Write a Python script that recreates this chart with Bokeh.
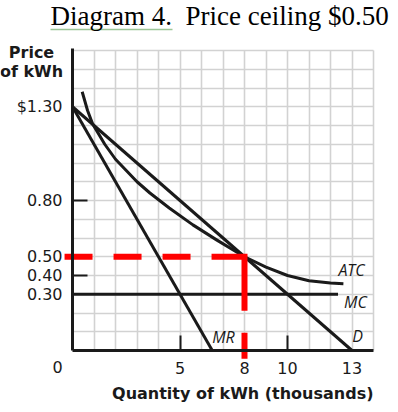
from bokeh.plotting import figure
from bokeh.models import FixedTicker, Label, NumeralTickFormatter
from bokeh.core.properties import value
from bokeh.embed import file_html
from bokeh.resources import INLINE

# ---------------- data ----------------
title_text = "Diagram 4.\u00a0 Price ceiling $0.50"
x_axis_title = "Quantity of kWh (thousands)"
y_axis_title = ["Price", "of kWh"]
origin_label = "0"

demand_q = [0, 13]
demand_p = [1.30, 0.0]
mr_q = [0, 6.5]
mr_p = [1.30, 0.0]
mc_q = [0, 12.35]
mc_p = [0.30, 0.30]
atc_q = [0.45, 0.7, 0.93, 1.5, 2, 2.5, 3, 3.6, 4.5, 5.6, 6.7, 8, 9, 10, 11, 12, 12.6]
atc_p = [1.38, 1.28, 1.21, 1.10, 1.02, 0.96, 0.90, 0.84, 0.76, 0.67, 0.59, 0.50,
         0.445, 0.40, 0.372, 0.36, 0.356]
ceiling_price = 0.50
ceiling_qty = 8
ceiling_line_q = [-0.37, ceiling_qty, ceiling_qty]
ceiling_line_p = [ceiling_price, ceiling_price, -0.05]

x_ticks = [5, 8, 10, 13]
x_tick_marks = [5, 10]
y_ticks = [0.30, 0.40, 0.50, 0.80, 1.30]
y_tick_marks = [0.40, 0.80]
grid_x = [1, 2, 3, 4, 5, 6, 7, 8, 9, 10, 11, 12, 13, 14]
grid_y = [0.1, 0.2, 0.3, 0.4, 0.5, 0.6, 0.7, 0.8, 0.9, 1.0, 1.1, 1.2, 1.3, 1.4, 1.5, 1.6]
q_max = 14
p_max = 1.6

curve_labels = ["ATC", "MC", "D", "MR"]
label_q = [12.98, 13.16, 13.26, 7.02]
label_p = [0.43, 0.26, 0.078, 0.073]

INK = "#1a1a1a"

# ---------------- layout (pixels) ----------------
W, H = 398, 412
X0_PX, Y0_PX = 72, 350          # where the origin sits on the canvas
PX_X, PX_Y = 21.5, 187.5        # pixels per unit
x_range = (-X0_PX / PX_X, (W - X0_PX) / PX_X)
y_range = (-(H - Y0_PX) / PX_Y, Y0_PX / PX_Y)

p = figure(width=W, height=H, x_range=x_range, y_range=y_range,
           output_backend="svg", toolbar_location=None, min_border=0)
p.outline_line_color = None
p.title.visible = False

# axes drawn at the origin inside the frame
p.xaxis.fixed_location = 0
p.yaxis.fixed_location = 0
p.xaxis.bounds = (0, q_max)
p.yaxis.bounds = (0, p_max + 0.01)
p.xaxis.ticker = FixedTicker(ticks=x_ticks, minor_ticks=x_tick_marks)
p.yaxis.ticker = FixedTicker(ticks=y_ticks, minor_ticks=y_tick_marks)
p.yaxis.formatter = NumeralTickFormatter(format="0.00")
p.yaxis.major_label_overrides = {1.3: "$1.30"}
for ax in (p.xaxis, p.yaxis):
    ax.axis_line_width = 3
    ax.axis_line_color = INK
    ax.major_tick_in = 0
    ax.major_tick_out = 0
    ax.major_tick_line_color = None
    ax.minor_tick_in = 15
    ax.minor_tick_out = 0
    ax.minor_tick_line_width = 2
    ax.minor_tick_line_color = INK
    ax.major_label_text_font = "DejaVu Sans"
    ax.major_label_text_font_size = "16px"
    ax.major_label_text_color = INK
p.yaxis.major_label_standoff = 10
p.xaxis.major_label_standoff = 11

# grid limited to the quadrant
p.xgrid.ticker = FixedTicker(ticks=grid_x)
p.ygrid.ticker = FixedTicker(ticks=grid_y)
grid_ok = True
try:
    p.xgrid.bounds = (0, q_max)
    p.ygrid.bounds = (0, p_max)
    p.xgrid.cross_bounds = (0, p_max)
    p.ygrid.cross_bounds = (0, q_max)
except Exception:
    grid_ok = False
if grid_ok:
    for g in (p.xgrid, p.ygrid):
        g.grid_line_color = "#d2d2d2"
        g.grid_line_width = 1.6
else:
    p.xgrid.visible = False
    p.ygrid.visible = False
    p.segment(x0=grid_x, y0=[0] * len(grid_x), x1=grid_x, y1=[p_max] * len(grid_x),
              line_color="#d2d2d2", line_width=1.6, level="underlay")
    p.segment(x0=[0] * len(grid_y), y0=grid_y, x1=[q_max] * len(grid_y), y1=grid_y,
              line_color="#d2d2d2", line_width=1.6, level="underlay")

# curves
p.line(mr_q, mr_p, line_width=3, color=INK)
p.line(demand_q, demand_p, line_width=3, color=INK)
p.line(mc_q, mc_p, line_width=3, color=INK)
p.line(atc_q, atc_p, line_width=3, color=INK, line_join="round")

# price ceiling dashed guide
p.line(ceiling_line_q, ceiling_line_p, line_width=6, color="#ff0000",
       line_dash="28 21 28 21 28 21 87 22 26 50", line_join="miter")

# curve labels
p.text(x=label_q, y=label_p, text=curve_labels, text_font=value("Open Sans"),
       text_font_style="italic", text_font_size="16px", text_align="center",
       text_baseline="middle", text_color=INK)

# title with its light underline under "Diagram 4."
p.add_layout(Label(x=0, y=p_max, x_offset=-22, y_offset=35, text=title_text,
                   text_font="Liberation Serif", text_font_size="27px",
                   text_align="left", text_baseline="alphabetic", text_color="black"))
ul_y = p_max + 21 / PX_Y
p.line([-22 / PX_X, 100 / PX_X], [ul_y, ul_y], line_width=1.5, color="#9cc596")

# axis titles and origin label
p.add_layout(Label(x=0, y=p_max, x_offset=-41, y_offset=-2, text=y_axis_title[0],
                   text_font="DejaVu Sans", text_font_style="bold", text_font_size="16px",
                   text_align="center", text_baseline="alphabetic", text_color=INK))
p.add_layout(Label(x=0, y=p_max, x_offset=-41, y_offset=-21, text=y_axis_title[1],
                   text_font="DejaVu Sans", text_font_style="bold", text_font_size="16px",
                   text_align="center", text_baseline="alphabetic", text_color=INK))
p.add_layout(Label(x=0, y=0, x_offset=-15, y_offset=-16, text=origin_label,
                   text_font="DejaVu Sans", text_font_size="16px",
                   text_align="center", text_baseline="middle", text_color=INK))
p.add_layout(Label(x=q_max, y=0, x_offset=0, y_offset=-43, text=x_axis_title,
                   text_font="DejaVu Sans", text_font_style="bold", text_font_size="16px",
                   text_align="right", text_baseline="alphabetic", text_color=INK))

open("out.html", "w").write(file_html(p, INLINE))
